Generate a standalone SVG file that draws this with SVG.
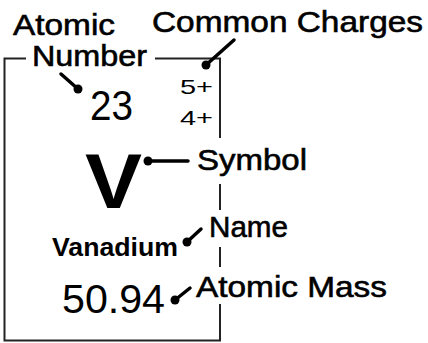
<svg xmlns="http://www.w3.org/2000/svg" width="428" height="343" viewBox="0 0 428 343">
<style>
.lbl{font-family:"Liberation Sans",Arial,sans-serif;font-size:30px;fill:#000;stroke:#000;stroke-width:0.6}
.val{font-family:"Liberation Sans",Arial,sans-serif;fill:#000}
.box{stroke:#222;stroke-width:2;fill:none}
.ptr{stroke:#000;stroke-width:3.5;stroke-linecap:round;fill:none}
.dot{fill:#000}
</style>
<rect width="428" height="343" fill="#fff"/>
<g id="element-box">
<path class="box" d="M26 58.5H4.5V340.5H220V304M220 267V247M220 210V184M220 138V58.5H155"/>
<text class="val" x="90" y="120" font-size="43" textLength="43" lengthAdjust="spacingAndGlyphs">23</text>
<text class="val" x="180" y="94" font-size="21" textLength="33" lengthAdjust="spacingAndGlyphs">5+</text>
<text class="val" x="180" y="125" font-size="21" textLength="33" lengthAdjust="spacingAndGlyphs">4+</text>
<text class="val" x="85" y="208" font-size="78" font-weight="bold" textLength="57" lengthAdjust="spacingAndGlyphs">V</text>
<text class="val" x="52" y="256" font-size="25" font-weight="bold" textLength="126" lengthAdjust="spacingAndGlyphs">Vanadium</text>
<text class="val" x="62" y="313" font-size="40" textLength="103" lengthAdjust="spacingAndGlyphs">50.94</text>
</g>
<g id="label-atomic-number">
<text class="lbl" x="13" y="35" textLength="102" lengthAdjust="spacingAndGlyphs">Atomic</text>
<text class="lbl" x="32" y="66" textLength="115" lengthAdjust="spacingAndGlyphs">Number</text>
</g>
<g id="label-common-charges">
<text class="lbl" x="152" y="32" textLength="271" lengthAdjust="spacingAndGlyphs">Common Charges</text>
</g>
<g id="label-symbol">
<text class="lbl" x="197" y="170" textLength="110" lengthAdjust="spacingAndGlyphs">Symbol</text>
</g>
<g id="label-name">
<text class="lbl" x="209" y="237" textLength="79" lengthAdjust="spacingAndGlyphs">Name</text>
</g>
<g id="label-atomic-mass">
<text class="lbl" x="196" y="297" textLength="191" lengthAdjust="spacingAndGlyphs">Atomic Mass</text>
</g>
<g id="connectors">
<line class="ptr" x1="61" y1="74" x2="78" y2="89"/>
<circle class="dot" cx="78" cy="89" r="4.5"/>
<line class="ptr" x1="206" y1="65" x2="234" y2="40"/>
<circle class="dot" cx="206" cy="65" r="4.5"/>
<line class="ptr" x1="148" y1="161" x2="188" y2="161"/>
<circle class="dot" cx="148" cy="161" r="4.5"/>
<line class="ptr" x1="187" y1="242" x2="201" y2="229"/>
<circle class="dot" cx="187" cy="242" r="4.5"/>
<line class="ptr" x1="175" y1="300" x2="190" y2="288"/>
<circle class="dot" cx="175" cy="300" r="4.5"/>
</g>
</svg>
